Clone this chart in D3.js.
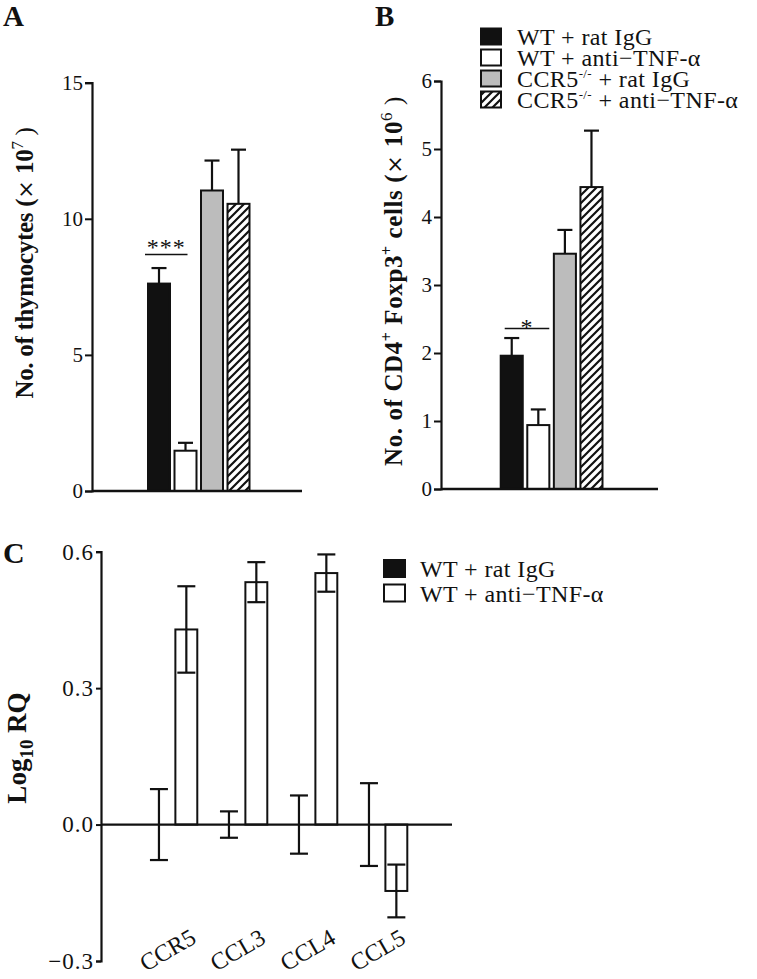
<!DOCTYPE html>
<html>
<head>
<meta charset="utf-8">
<script src="https://cdn.jsdelivr.net/npm/d3@7"></script>
<style>
  html, body { margin: 0; padding: 0; background: #fff; }
  svg { display: block; }
  text { font-family: "Liberation Serif", "Times New Roman", serif; fill: #111; }
</style>
</head>
<body>
<script>
// ---------------- data ----------------
const groups = ["WT + rat IgG", "WT + anti−TNF-α", "CCR5-/- + rat IgG", "CCR5-/- + anti−TNF-α"];
const thymocytes = [7.62, 1.48, 11.04, 10.55];
const thymocytesErr = [0.57, 0.29, 1.10, 1.99];
const foxp3Cells = [1.96, 0.94, 3.46, 4.44];
const foxp3CellsErr = [0.26, 0.23, 0.35, 0.83];
const ticksA = [0, 5, 10, 15];
const ticksB = [0, 1, 2, 3, 4, 5, 6];

const genes = ["CCR5", "CCL3", "CCL4", "CCL5"];
const seriesC = ["WT + rat IgG", "WT + anti−TNF-α"];
const ratIgGLogRQ = [0, 0, 0, 0];
const ratIgGLogRQErr = [0.078, 0.029, 0.064, 0.091];
const antiTNFLogRQ = [0.429, 0.533, 0.553, -0.146];
const antiTNFLogRQErr = [0.095, 0.044, 0.041, 0.058];
const ticksC = [-0.3, 0.0, 0.3, 0.6];

// ---------------- setup ----------------
const W = 757, H = 979;
const svg = d3.select("body").append("svg").attr("width", W).attr("height", H);
svg.append("rect").attr("width", W).attr("height", H).attr("fill", "#fff");

const defs = svg.append("defs");
const pat = defs.append("pattern").attr("id", "hatch").attr("patternUnits", "userSpaceOnUse")
  .attr("width", 8).attr("height", 8);
pat.append("rect").attr("width", 8).attr("height", 8).attr("fill", "#fff");
pat.append("path").attr("d", "M-2,2 l4,-4 M0,8 l8,-8 M6,10 l4,-4")
  .attr("stroke", "#111").attr("stroke-width", 2.2);

const fills = ["#111", "#fff", "#bcbcbc", "url(#hatch)"];
const ink = "#111";

function styleAxis(g, fontSize, ls) {
  g.select(".domain").attr("stroke", ink).attr("stroke-width", 2.2);
  g.selectAll(".tick line").attr("stroke", ink).attr("stroke-width", 2);
  g.selectAll(".tick text").attr("font-size", fontSize).attr("letter-spacing", ls || 0)
    .attr("font-family", '"Liberation Serif", "Times New Roman", serif').attr("fill", ink);
}

function barPanel(opt) {
  const x = d3.scaleBand().domain(groups).range(opt.barRange).paddingInner(0.17).paddingOuter(0);
  const y = d3.scaleLinear().domain(opt.domain).range(opt.yRange);
  const g = svg.append("g");

  // error bars (upwards)
  opt.values.forEach((v, i) => {
    const cx = x(groups[i]) + x.bandwidth() / 2;
    g.append("line").attr("x1", cx).attr("x2", cx).attr("y1", y(v)).attr("y2", y(v + opt.errs[i]))
      .attr("stroke", ink).attr("stroke-width", 2.2);
    g.append("line").attr("x1", cx - 7.5).attr("x2", cx + 7.5).attr("y1", y(v + opt.errs[i])).attr("y2", y(v + opt.errs[i]))
      .attr("stroke", ink).attr("stroke-width", 2.2);
  });
  // bars
  g.selectAll("rect.bar").data(opt.values).join("rect").attr("class", "bar")
    .attr("x", (d, i) => x(groups[i]))
    .attr("width", x.bandwidth())
    .attr("y", d => y(d))
    .attr("height", d => y(0) - y(d))
    .attr("fill", (d, i) => fills[i])
    .attr("stroke", ink).attr("stroke-width", 2);

  // axes
  const ay = g.append("g").attr("transform", `translate(${opt.axisX},0)`)
    .call(d3.axisLeft(y).tickValues(opt.ticks).tickSize(7).tickPadding(2).tickFormat(d3.format("d")));
  styleAxis(ay, 21);
  g.append("line").attr("x1", opt.axisX).attr("x2", opt.axisEnd).attr("y1", y(0)).attr("y2", y(0))
    .attr("stroke", ink).attr("stroke-width", 2.4);

  // significance
  const s = opt.sig;
  const sx1 = x(groups[0]) + s.dx1, sx2 = x(groups[1]) + s.dx2;
  g.append("line").attr("x1", sx1).attr("x2", sx2).attr("y1", y(s.y)).attr("y2", y(s.y))
    .attr("stroke", ink).attr("stroke-width", 1.6);
  g.append("text").attr("x", (sx1 + sx2) / 2).attr("y", y(s.y) + s.ty).attr("text-anchor", "middle")
    .attr("font-size", 24).attr("letter-spacing", 1).text(s.label);
  return {x, y, g};
}

// ---------------- Panel A ----------------
barPanel({
  values: thymocytes, errs: thymocytesErr, domain: [0, 15], yRange: [491, 82.7],
  barRange: [148, 249.5], axisX: 92, axisEnd: 302, ticks: ticksA,
  sig: {y: 8.69, label: "***", dx1: -3, dx2: 13, ty: 1}
});
svg.append("text").attr("x", 3).attr("y", 26).attr("font-size", 29).attr("font-weight", "bold").text("A");
{
  const t = svg.append("text").attr("transform", "translate(33,263) rotate(-90)")
    .attr("text-anchor", "middle").attr("font-size", 25).attr("font-weight", "bold").attr("letter-spacing", -0.3);
  t.append("tspan").text("No. of thymocytes (");
  t.append("tspan").attr("font-family", "DejaVu Sans").attr("font-weight", "normal").attr("font-size", 22).text("× ");
  t.append("tspan").text("10");
  t.append("tspan").attr("dy", -10).attr("font-size", 17).attr("font-weight", "normal").text("7");
  t.append("tspan").attr("dy", 10).attr("font-weight", "normal").text(" )");
}

// ---------------- Panel B ----------------
barPanel({
  values: foxp3Cells, errs: foxp3CellsErr, domain: [0, 6], yRange: [489, 81],
  barRange: [500.7, 602.5], axisX: 441, axisEnd: 658, ticks: ticksB,
  sig: {y: 2.36, label: "*", dx1: 4, dx2: 22, ty: 6}
});
svg.append("text").attr("x", 375).attr("y", 26).attr("font-size", 29).attr("font-weight", "bold").text("B");
{
  const t = svg.append("text").attr("transform", "translate(402,281) rotate(-90)")
    .attr("text-anchor", "middle").attr("font-size", 25).attr("font-weight", "bold").attr("letter-spacing", 0.6);
  t.append("tspan").text("No. of CD4");
  t.append("tspan").attr("dy", -10).attr("font-size", 16).text("+");
  t.append("tspan").attr("dy", 10).text(" Foxp3");
  t.append("tspan").attr("dy", -10).attr("font-size", 16).text("+");
  t.append("tspan").attr("dy", 10).text(" cells (");
  t.append("tspan").attr("font-family", "DejaVu Sans").attr("font-weight", "normal").attr("font-size", 22).text("× ");
  t.append("tspan").text("10");
  t.append("tspan").attr("dy", -10).attr("font-size", 17).attr("font-weight", "normal").text("6");
  t.append("tspan").attr("dy", 10).attr("font-weight", "normal").text(" )");
}

// Legend B
{
  const lg = svg.append("g");
  groups.forEach((name, i) => {
    const yTop = 28.5 + i * 21;
    lg.append("rect").attr("x", 481).attr("y", yTop).attr("width", 20).attr("height", 16)
      .attr("fill", fills[i]).attr("stroke", ink).attr("stroke-width", 2);
    const t = lg.append("text").attr("x", 517).attr("y", yTop + 16).attr("font-size", 24).attr("letter-spacing", 0.4);
    if (name.startsWith("CCR5-/-")) {
      t.append("tspan").text("CCR5");
      t.append("tspan").attr("dy", -9).attr("font-size", 13).text("-/-");
      t.append("tspan").attr("dy", 9).text(name.slice(7));
    } else {
      t.text(name);
    }
  });
}

// ---------------- Panel C ----------------
{
  const x0 = d3.scaleBand().domain(genes).range([148, 407.3]).paddingInner(0.296).paddingOuter(0);
  const x1 = d3.scaleBand().domain(seriesC).range([0, x0.bandwidth()]).paddingInner(0.2);
  const y = d3.scaleLinear().domain([-0.3, 0.6]).range([961, 551.7]);
  const g = svg.append("g");
  const seriesVals = [ratIgGLogRQ, antiTNFLogRQ];
  const seriesErrs = [ratIgGLogRQErr, antiTNFLogRQErr];
  const cFills = ["#111", "#fff"];

  seriesC.forEach((s, si) => {
    genes.forEach((gene, gi) => {
      const v = seriesVals[si][gi];
      const bx = x0(gene) + x1(s);
      if (v !== 0) {
        g.append("rect").attr("x", bx).attr("width", x1.bandwidth())
          .attr("y", y(Math.max(0, v))).attr("height", Math.abs(y(v) - y(0)))
          .attr("fill", cFills[si]).attr("stroke", ink).attr("stroke-width", 2);
      }
    });
  });
  // zero line
  g.append("line").attr("x1", 101).attr("x2", 452).attr("y1", y(0)).attr("y2", y(0))
    .attr("stroke", ink).attr("stroke-width", 2.2);
  // error bars
  seriesC.forEach((s, si) => {
    genes.forEach((gene, gi) => {
      const v = seriesVals[si][gi], e = seriesErrs[si][gi];
      const cx = x0(gene) + x1(s) + x1.bandwidth() / 2;
      g.append("line").attr("x1", cx).attr("x2", cx).attr("y1", y(v - e)).attr("y2", y(v + e))
        .attr("stroke", ink).attr("stroke-width", 2.2);
      [v - e, v + e].forEach(yy => {
        g.append("line").attr("x1", cx - 9).attr("x2", cx + 9).attr("y1", y(yy)).attr("y2", y(yy))
          .attr("stroke", ink).attr("stroke-width", 2.2);
      });
    });
  });
  // axis
  const ay = g.append("g").attr("transform", "translate(101,0)")
    .call(d3.axisLeft(y).tickValues(ticksC).tickSize(5).tickPadding(2)
      .tickFormat(d => (d < 0 ? "−" : "") + d3.format(".1f")(Math.abs(d))));
  styleAxis(ay, 23, 1);
  // category labels
  genes.forEach(gene => {
    const cx = x0(gene) + x0.bandwidth() / 2;
    g.append("text").attr("transform", `translate(${cx - 1},957) rotate(-30)`)
      .attr("text-anchor", "middle").attr("font-size", 24).text(gene);
  });
  svg.append("text").attr("x", 3).attr("y", 563).attr("font-size", 30).attr("font-weight", "bold").text("C");
  const t = svg.append("text").attr("transform", "translate(26,748) rotate(-90)")
    .attr("text-anchor", "middle").attr("font-size", 27).attr("font-weight", "bold");
  t.append("tspan").text("Log");
  t.append("tspan").attr("dy", 7).attr("font-size", 19).text("10");
  t.append("tspan").attr("dy", -7).text(" RQ");

  // legend C
  seriesC.forEach((name, i) => {
    const yTop = 560 + i * 24.5;
    svg.append("rect").attr("x", 384).attr("y", yTop).attr("width", 21).attr("height", 17)
      .attr("fill", cFills[i]).attr("stroke", ink).attr("stroke-width", 2);
    svg.append("text").attr("x", 420).attr("y", yTop + 17).attr("font-size", 24).attr("letter-spacing", 0.4).text(name);
  });
}
</script>
</body>
</html>
